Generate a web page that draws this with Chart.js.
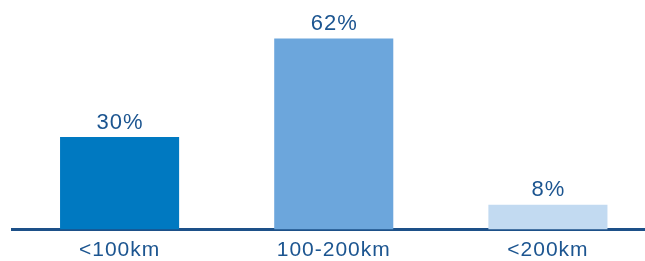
<!DOCTYPE html>
<html>
<head>
<meta charset="utf-8">
<script src="https://cdn.jsdelivr.net/npm/chart.js@4/dist/chart.umd.min.js"></script>
<style>
html,body{margin:0;padding:0;background:#fff;overflow:hidden;}
#clip{width:645px;height:261px;overflow:hidden;position:relative;}
#wrap{width:655px;height:261px;position:absolute;left:0;top:0;}
</style>
</head>
<body>
<div id="clip"><div id="wrap"><canvas id="c"></canvas></div></div>
<script>
const categories = ['<100km', '100-200km', '<200km'];
const shares = [30, 62, 8];
const valueLabels = ['30%', '62%', '8%'];
const barColors = ['#0079c1', '#6ca6dc', '#c2daf1'];

const textColor = '#1c5590';
const fontFamily = '"Liberation Sans", Arial, sans-serif';

const spacingPlugin = {
  id: 'spacing',
  beforeDraw(chart) { chart.ctx.letterSpacing = '1px'; }
};

const valueLabelPlugin = {
  id: 'valueLabels',
  afterDatasetsDraw(chart) {
    const ctx = chart.ctx;
    const meta = chart.getDatasetMeta(0);
    ctx.save();
    ctx.letterSpacing = '1px';
    ctx.fillStyle = textColor;
    ctx.font = '22px ' + fontFamily;
    ctx.textAlign = 'center';
    ctx.textBaseline = 'alphabetic';
    meta.data.forEach((bar, i) => {
      ctx.fillText(valueLabels[i], bar.x + 0.5, bar.y - 8.5);
    });
    ctx.restore();
  }
};

new Chart(document.getElementById('c'), {
  type: 'bar',
  data: {
    labels: categories,
    datasets: [{
      data: shares,
      backgroundColor: barColors,
      borderWidth: 0,
      categoryPercentage: 1,
      barPercentage: 0.556
    }]
  },
  options: {
    responsive: true,
    maintainAspectRatio: false,
    animation: false,
    layout: { padding: { top: 0, left: 12.5, right: 0, bottom: 0 } },
    plugins: { legend: { display: false }, tooltip: { enabled: false } },
    scales: {
      x: {
        grid: { display: false, drawTicks: false },
        border: { display: true, color: '#1d5088', width: 3 },
        ticks: { color: textColor, font: { family: fontFamily, size: 21 }, padding: 8 },
        afterFit(scale) { scale.height = 31.5; }
      },
      y: {
        display: false,
        min: 0,
        max: 74.5
      }
    }
  },
  plugins: [spacingPlugin, valueLabelPlugin]
});
</script>
</body>
</html>
